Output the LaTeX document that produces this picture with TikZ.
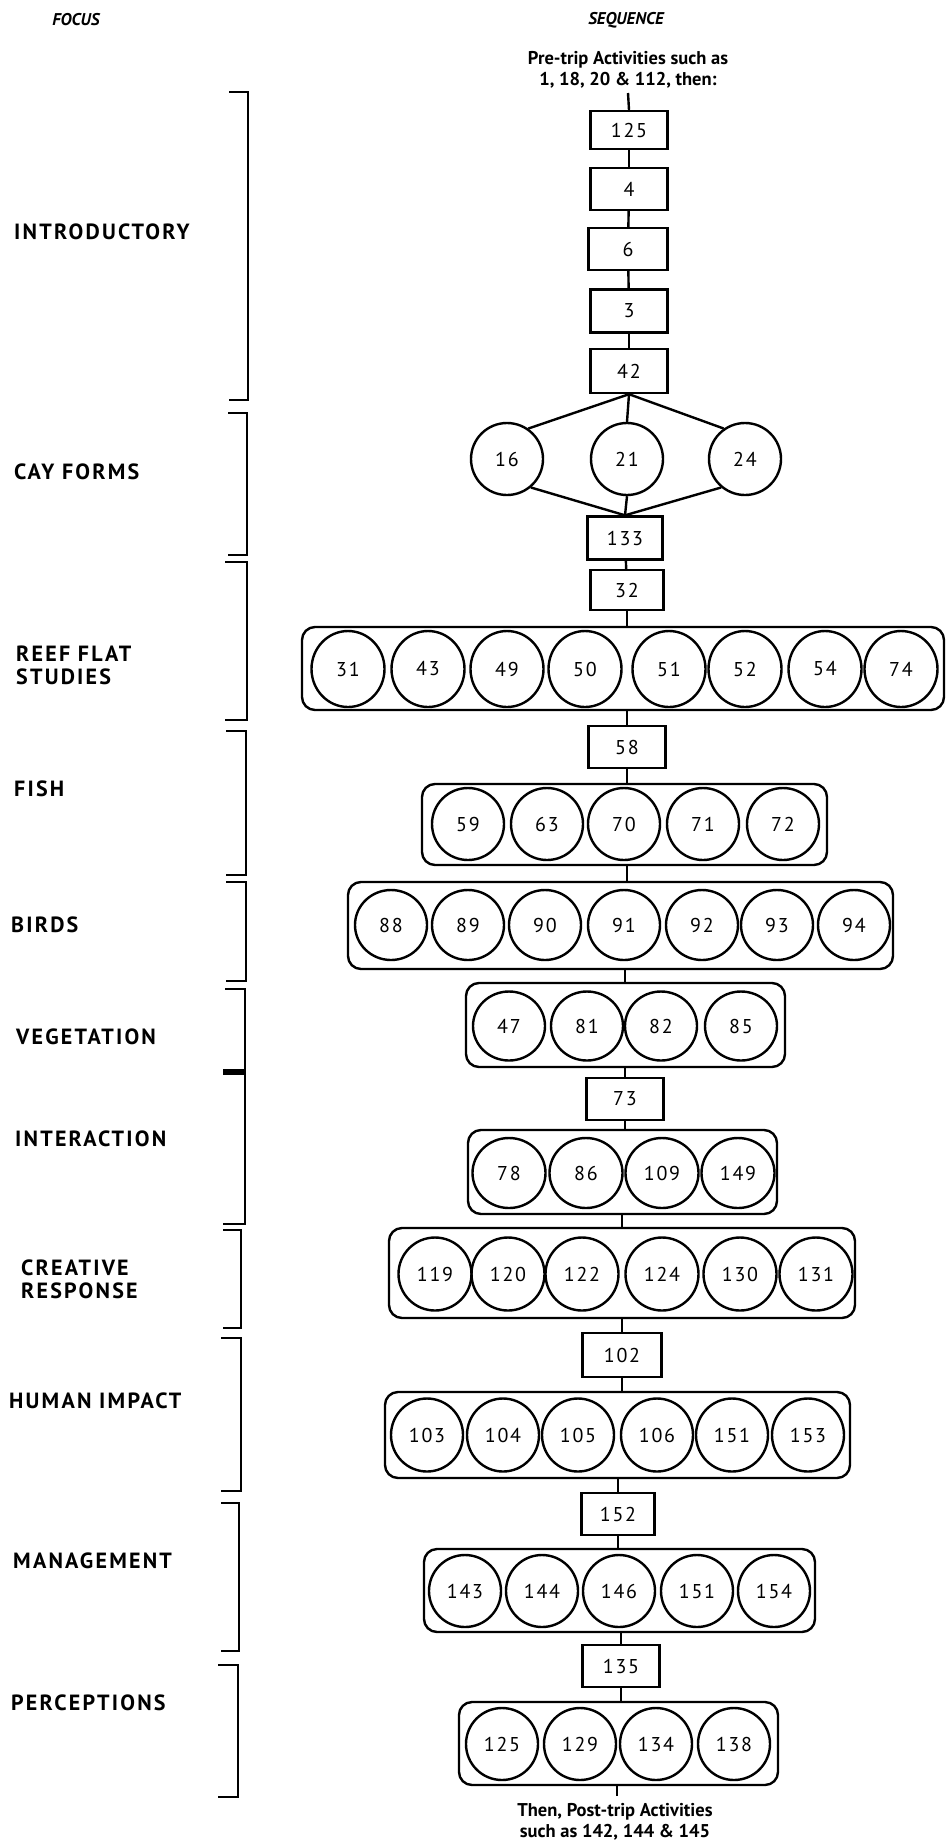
\documentclass[tikz,border=0pt]{standalone}
\usepackage{fontspec}
\setmainfont{PT Sans}
\newfontfamily\numfont[LetterSpace=9]{PT Sans}
\newfontfamily\labfont[LetterSpace=10]{PT Sans}
\usetikzlibrary{shapes.geometric}
\begin{document}
\begin{tikzpicture}[x=1pt,y=-1pt,line width=2.4pt,
  numbox/.style={draw, rectangle, minimum width=77pt, minimum height=42pt, inner sep=0pt,
    font=\numfont\fontsize{20}{21}\selectfont},
  act/.style={draw, ellipse, inner sep=0pt, minimum width=72pt, minimum height=72pt,
    font=\numfont\fontsize{20}{21}\selectfont},
  grp/.style={draw, rectangle, rounded corners=13pt, inner sep=0pt},
  focus/.style={anchor=west, inner sep=0pt, align=left,
    font=\labfont\bfseries\fontsize{22}{23}\selectfont},
  head/.style={inner sep=0pt, font=\bfseries\itshape\fontsize{17}{18}\selectfont},
  note/.style={inner sep=0pt, align=center, font=\bfseries\fontsize{18.5}{21}\selectfont},
  bracket/.style={line width=2.8pt},
]
\fill[white] (0,0) rectangle (947,1842);
\useasboundingbox (0,0) rectangle (947,1842);

% column headings
\node[head] (hfocus) at (76,20) {FOCUS};
\node[head] (hseq) at (626,20) {SEQUENCE};

% focus labels
\node[focus] (lintro) at (13,232) {INTRODUCTORY};
\node[focus] (lcay) at (13,472) {CAY FORMS};
\node[focus] (lreef) at (15,665) {REEF FLAT\\STUDIES};
\node[focus] (lfish) at (13,789) {FISH};
\node[focus] (lbirds) at (10,925) {BIRDS};
\node[focus] (lveg) at (15,1037) {VEGETATION};
\node[focus] (linter) at (14,1139) {INTERACTION};
\node[focus] (lcreat) at (20,1279) {CREATIVE\\RESPONSE};
\node[focus] (lhuman) at (8,1401) {HUMAN IMPACT};
\node[focus] (lmgmt) at (12,1561) {MANAGEMENT};
\node[focus] (lperc) at (10,1703) {PERCEPTIONS};

% brackets grouping the sequence by focus
\draw[bracket] (229,92) -- (248,92) -- (248,400) -- (229,400);
\draw[bracket] (228,413) -- (247,413) -- (247,555) -- (228,555);
\draw[bracket] (225,562) -- (247,562) -- (247,720) -- (225,720);
\draw[bracket] (226,731) -- (246,731) -- (246,875) -- (226,875);
\draw[bracket] (226,882) -- (246,882) -- (246,981) -- (226,981);
\draw[bracket] (225,989) -- (245,989) -- (245,1224) -- (223,1224);
\draw[line width=6pt] (223,1072) -- (245,1072);
\draw[bracket] (223,1230) -- (241,1230) -- (241,1328) -- (223,1328);
\draw[bracket] (221,1338) -- (241,1338) -- (241,1491) -- (221,1491);
\draw[bracket] (221,1503) -- (239,1503) -- (239,1651) -- (221,1651);
\draw[bracket] (218,1665) -- (238,1665) -- (238,1797) -- (218,1797);

% entry and exit notes
\node[note] (pre) at (628,70) {Pre-trip Activities such as\\1, 18, 20 \& 112, then:};
\coordinate (ptop) at (628,93);
\node[note] (post) at (615,1822) {Then, Post-trip Activities\\such as 142, 144 \& 145};
\coordinate (pbot) at (617,1796);

% introductory chain
\node[numbox, minimum height=38pt] (b125) at (629,130) {125};
\node[numbox] (b4) at (629,189) {4};
\node[numbox, minimum width=79pt] (b6) at (628,249) {6};
\node[numbox, minimum height=43pt] (b3) at (629,311) {3};
\node[numbox, minimum height=44pt] (b42) at (629,371) {42};

% cay forms
\node[act] (c16) at (507,459) {16};
\node[act] (c21) at (627,459) {21};
\node[act] (c24) at (745,459) {24};
\node[numbox, minimum width=75pt, minimum height=43pt] (b133) at (625,538) {133};
\node[numbox, minimum width=73pt, minimum height=40pt] (b32) at (627,590) {32};

% reef flat studies
\node[grp, minimum width=642pt, minimum height=83pt] (g1) at (623,668.5) {};
\foreach \n/\x in {31/348,43/428,49/507,50/585,51/669,52/745,54/825,74/901}
  \node[act, minimum width=73pt, minimum height=76pt] (r\n) at (\x,669) {\n};

% fish
\node[numbox] (b58) at (627,747) {58};
\node[grp, minimum width=405pt, minimum height=81pt] (g2) at (624.5,824.5) {};
\foreach \n/\x in {59/468,63/547,70/624,71/703,72/783}
  \node[act] (f\n) at (\x,824) {\n};

% birds
\node[grp, minimum width=545pt, minimum height=87pt] (g3) at (620.5,925.5) {};
\foreach \n/\x in {88/391,89/468,90/545,91/624,92/702,93/777,94/854}
  \node[act, minimum width=72pt, minimum height=70pt] (a\n) at (\x,925) {\n};

% vegetation
\node[grp, minimum width=319pt, minimum height=84pt] (g4) at (625.5,1025) {};
\foreach \n/\x in {47/509,81/587,82/661,85/741}
  \node[act, minimum width=72pt, minimum height=69pt] (v\n) at (\x,1026) {\n};

% interaction
\node[numbox] (b73) at (625,1099) {73};
\node[grp, minimum width=309pt, minimum height=84pt] (g5) at (622.5,1172) {};
\foreach \n/\x in {78/509,86/586,109/662,149/738}
  \node[act, minimum width=73pt, minimum height=70pt] (i\n) at (\x,1173) {\n};

% creative response
\node[grp, minimum width=466pt, minimum height=90pt] (g6) at (622,1273) {};
\foreach \n/\x in {119/435,120/508,122/582,124/662,130/740,131/816}
  \node[act, minimum width=73pt, minimum height=73pt] (k\n) at (\x,1274) {\n};

% human impact
\node[numbox, minimum width=79pt, minimum height=44pt] (b102) at (622,1355) {102};
\node[grp, minimum width=465pt, minimum height=86pt] (g7) at (617.5,1435) {};
\foreach \n/\x in {103/427,104/503,105/578,106/657,151/732,153/808}
  \node[act, minimum width=72pt, minimum height=73pt] (h\n) at (\x,1435) {\n};

% management
\node[numbox, minimum width=73pt] (b152) at (618,1514) {152};
\node[grp, minimum width=391pt, minimum height=83pt] (g8) at (619.5,1590.5) {};
\foreach \n/\x in {143/465,144/542,146/619,151/697,154/774}
  \node[act] (m\n) at (\x,1591) {\n};

% perceptions
\node[numbox] (b135) at (621,1666) {135};
\node[grp, minimum width=319pt, minimum height=83pt] (g9) at (618.5,1743.5) {};
\foreach \n/\x in {125/502,129/580,134/656,138/734}
  \node[act] (p\n) at (\x,1744) {\n};

% connectors
\draw (ptop) -- (b125.north);
\draw (b125) -- (b4);
\draw (b4) -- (b6);
\draw (b6) -- (b3);
\draw (b3) -- (b42);
\draw (b42.south) -- (c16.55);
\draw (b42.south) -- (c21.north);
\draw (b42.south) -- (c24.125);
\draw (c16.-50) -- (b133.north);
\draw (c21.south) -- (b133.north);
\draw (c24.-130) -- (b133.north);
\draw (b133) -- (b32);
\draw (b32.south) -- (b32.south |- g1.north);
\draw (b58.north) -- (b58.north |- g1.south);
\draw (b58.south) -- (b58.south |- g2.north);
\draw (b58.south |- g2.south) -- (b58.south |- g3.north);
\draw (b73.north |- g3.south) -- (b73.north |- g4.north);
\draw (b73.north) -- (b73.north |- g4.south);
\draw (b73.south) -- (b73.south |- g5.north);
\draw (b102.north |- g5.south) -- (b102.north |- g6.north);
\draw (b102.north) -- (b102.north |- g6.south);
\draw (b102.south) -- (b102.south |- g7.north);
\draw (b152.north) -- (b152.north |- g7.south);
\draw (b152.south) -- (b152.south |- g8.north);
\draw (b135.north) -- (b135.north |- g8.south);
\draw (b135.south) -- (b135.south |- g9.north);
\draw (pbot |- g9.south) -- (pbot);
\end{tikzpicture}
\end{document}
